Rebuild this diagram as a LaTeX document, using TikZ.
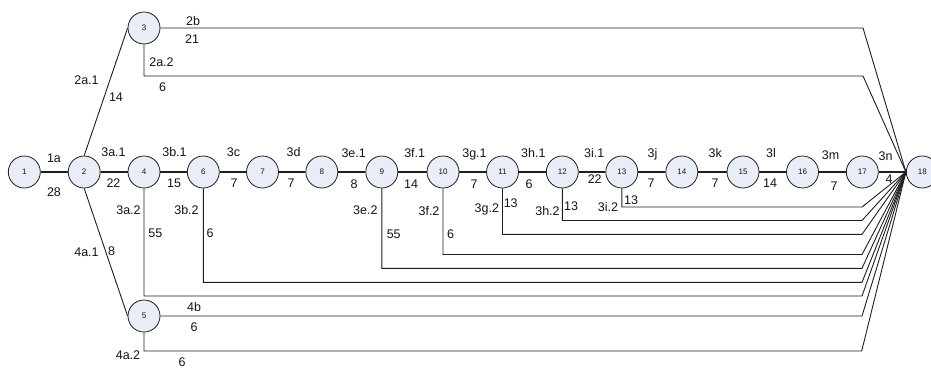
\documentclass[tikz,border=0pt]{standalone}
\usepackage{fontspec}
\setmainfont{Liberation Sans}
\definecolor{nodefill}{RGB}{232,237,247}
\definecolor{linecol}{RGB}{30,30,30}
\definecolor{txtcol}{RGB}{20,20,20}
\begin{document}
\begin{tikzpicture}[x=1pt,y=-1pt,
  ev/.style={circle,draw=linecol,fill=nodefill,line width=0.8pt,minimum size=32pt,inner sep=0pt,font=\fontsize{8}{9}\selectfont,text=txtcol},
  lb/.style={anchor=base,inner sep=0pt,font=\fontsize{12.5}{14}\selectfont,text=txtcol},
  thin/.style={draw=linecol,line width=0.9pt},
  thk/.style={draw=linecol,line width=2.6pt}]
\useasboundingbox (0,0) rectangle (931,367);
% nodes
\node[ev] (n1) at (24.3,172) {1};
\node[ev] (n2) at (84.2,172) {2};
\node[ev] (n3) at (144,28) {3};
\node[ev] (n4) at (144,172) {4};
\node[ev] (n5) at (144,316) {5};
\node[ev] (n6) at (203.3,172) {6};
\node[ev] (n7) at (262.5,172) {7};
\node[ev] (n8) at (321.8,172) {8};
\node[ev] (n9) at (381.8,172) {9};
\node[ev] (n10) at (443,172) {10};
\node[ev] (n11) at (502.5,172) {11};
\node[ev] (n12) at (562.3,172) {12};
\node[ev] (n13) at (621.8,172) {13};
\node[ev] (n14) at (681.8,172) {14};
\node[ev] (n15) at (743,172) {15};
\node[ev] (n16) at (802.5,172) {16};
\node[ev] (n17) at (862.3,172) {17};
\node[ev] (n18) at (922.3,172) {18};
\coordinate (c) at (n18.west);
% main thick chain
\draw[thk] (n1) -- (n2);
\draw[thk] (n2) -- (n4);
\draw[thk] (n4) -- (n6);
\draw[thk] (n6) -- (n7);
\draw[thk] (n7) -- (n8);
\draw[thk] (n8) -- (n9);
\draw[thk] (n9) -- (n10);
\draw[thk] (n10) -- (n11);
\draw[thk] (n11) -- (n12);
\draw[thk] (n12) -- (n13);
\draw[thk] (n13) -- (n14);
\draw[thk] (n14) -- (n15);
\draw[thk] (n15) -- (n16);
\draw[thk] (n16) -- (n17);
\draw[thk] (n17.east) -- (c);
% branches
\draw[thin] (n2.north) -- (n3.west);
\draw[thin] (n2.south) -- (n5.west);
\draw[thin] (n3.east) -- (863,28) -- (c);
\draw[thin] (n3.south) |- (863,76) -- (c);
\draw[thin] (n13.south) |- (862,207) -- (c);
\draw[thin] (n12.south) |- (862,220.5) -- (c);
\draw[thin] (n11.south) |- (862,234.3) -- (c);
\draw[thin] (n10.south) |- (862,254.5) -- (c);
\draw[thin] (n9.south) |- (862,268.3) -- (c);
\draw[thin] (n6.south) |- (862,282.3) -- (c);
\draw[thin] (n4.south) |- (862,296) -- (c);
\draw[thin] (n5.east) -- (862,316) -- (c);
\draw[thin] (n5.south) |- (861.7,351) -- (c);
% labels (base positions = centre + 4.5)
\node[lb] (t1a) at (54,162.5) {1a};
\node[lb] (t28) at (54,196) {28};
\node[lb] (t3a1) at (113.5,156.5) {3a.1};
\node[lb] (t22a) at (113.5,187.5) {22};
\node[lb] (t3b1) at (174.5,156.5) {3b.1};
\node[lb] (t15) at (174,187.5) {15};
\node[lb] (t3c) at (233.5,156.5) {3c};
\node[lb] (t7a) at (234,187.5) {7};
\node[lb] (t3d) at (293.5,156.5) {3d};
\node[lb] (t7b) at (291,187.5) {7};
\node[lb] (t3e1) at (353.7,157) {3e.1};
\node[lb] (t8a) at (354,188.5) {8};
\node[lb] (t3f1) at (414.7,157) {3f.1};
\node[lb] (t14a) at (411,188.5) {14};
\node[lb] (t3g1) at (474.5,157) {3g.1};
\node[lb] (t7c) at (474,188.5) {7};
\node[lb] (t3h1) at (533.3,157) {3h.1};
\node[lb] (t6a) at (529,188.5) {6};
\node[lb] (t3i1) at (594.3,157) {3i.1};
\node[lb] (t22b) at (594.7,183.5) {22};
\node[lb] (t3j) at (652.5,157.5) {3j};
\node[lb] (t7d) at (651,187.5) {7};
\node[lb] (t3k) at (715.3,157.5) {3k};
\node[lb] (t7e) at (715,187.5) {7};
\node[lb] (t3l) at (771,157.5) {3l};
\node[lb] (t14b) at (770,187.5) {14};
\node[lb] (t3m) at (830.5,159.5) {3m};
\node[lb] (t7f) at (834,190.5) {7};
\node[lb] (t3n) at (885.5,160.5) {3n};
\node[lb] (t4) at (889,183.2) {4};
\node[lb] (t2a1) at (86.5,84.5) {2a.1};
\node[lb] (t14c) at (116,101.5) {14};
\node[lb] (t2b) at (193,25.5) {2b};
\node[lb] (t21) at (192,43.5) {21};
\node[lb] (t2a2) at (161.5,66.5) {2a.2};
\node[lb] (t6b) at (162.7,91.5) {6};
\node[lb] (t3a2) at (128.5,214.5) {3a.2};
\node[lb] (t55a) at (155.3,237.5) {55};
\node[lb] (t3b2) at (186.5,214.5) {3b.2};
\node[lb] (t6c) at (210,237.5) {6};
\node[lb] (t3e2) at (365.3,214) {3e.2};
\node[lb] (t55b) at (393.7,238.2) {55};
\node[lb] (t3f2) at (429,215.2) {3f.2};
\node[lb] (t6d) at (450.7,238.2) {6};
\node[lb] (t3g2) at (486.8,212.5) {3g.2};
\node[lb] (t13a) at (510.7,207) {13};
\node[lb] (t3h2) at (547.5,215) {3h.2};
\node[lb] (t13b) at (571,210.5) {13};
\node[lb] (t3i2) at (608,211.5) {3i.2};
\node[lb] (t13c) at (631,204) {13};
\node[lb] (t4a1) at (86.5,256) {4a.1};
\node[lb] (t8b) at (111.7,255.5) {8};
\node[lb] (t4b) at (194,311.2) {4b};
\node[lb] (t6e) at (194,331.2) {6};
\node[lb] (t4a2) at (128,359) {4a.2};
\node[lb] (t6f) at (182,366) {6};
\end{tikzpicture}
\end{document}
